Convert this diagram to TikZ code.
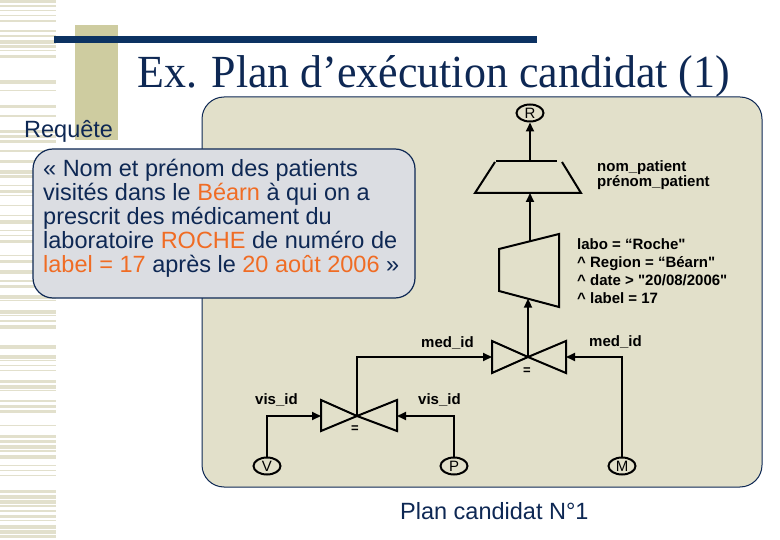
\documentclass[tikz,border=0pt]{standalone}
\usepackage{fontspec}
\setmainfont{Liberation Sans}
\newfontfamily\serifT{Liberation Serif}
\newfontfamily\plainsans{Liberation Sans}[Ligatures=TeXOff]
\usetikzlibrary{arrows.meta,shapes.geometric}
\definecolor{navy}{RGB}{14,40,84}
\definecolor{barnavy}{RGB}{12,50,98}
\definecolor{orng}{RGB}{240,108,36}
\definecolor{beige}{RGB}{226,224,202}
\definecolor{olive}{RGB}{206,204,160}
\definecolor{stripe}{RGB}{226,224,204}
\definecolor{greybox}{RGB}{219,221,226}
\tikzset{
  ln/.style={line width=2pt, line join=miter},
  arr/.style={ln, -{Triangle[length=9pt,width=8pt]}},
  rel/.style={ellipse, draw, line width=2pt, inner sep=0pt, minimum width=27pt, minimum height=17pt, font=\fontsize{15}{15}\selectfont},
  lbl/.style={anchor=base west, inner sep=0pt, font=\fontsize{15}{15}\selectfont\plainsans\bfseries},
  eqs/.style={inner sep=0pt, font=\fontsize{13}{13}\selectfont\bfseries},
  qline/.style={anchor=base west, inner sep=0pt, text=navy, font=\fontsize{23.5}{24}\selectfont},
}
\begin{document}
\begin{tikzpicture}[x=1pt,y=-1pt]
\useasboundingbox (0,0) rectangle (780,540);
\fill[white] (0,0) rectangle (780,540);
% left stripes
\pgfmathsetseed{11}
\foreach \i in {0,...,107} {
  \pgfmathtruncatemacro\hh{1+int(4*rnd)}
  \pgfmathtruncatemacro\on{rnd>0.3?1:0}
  \ifnum\on=1 \fill[stripe] (0,\i*5) rectangle (56,\i*5+\hh); \fi
}
% olive bar and navy rule
\fill[olive] (75,25) rectangle (118,140);
\fill[barnavy] (54,36) rectangle (537,43);
% title
\node[anchor=base west, inner sep=0pt, text=navy] (title) at (137,88)
  {\scalebox{0.955}[1]{\fontsize{46}{46}\selectfont\serifT Ex. Plan d’exécution candidat (1)}};
% main beige box
\draw[fill=beige, draw=navy, line width=1pt, rounded corners=22pt] (202,97) rectangle (762,487);
% Requete
\node[qline] (req) at (24,138) {Requête};
% grey query box
\draw[fill=greybox, draw=navy, line width=1.2pt, rounded corners=20pt] (33,149) rectangle (415,298);
\node[qline] (q1) at (43,177) {« Nom et prénom des patients};
\node[qline] (q2) at (43,201) {visités dans le \textcolor{orng}{Béarn} à qui on a};
\node[qline] (q3) at (43,225) {prescrit des médicament du};
\node[qline] (q4) at (43,249) {laboratoire \textcolor{orng}{ROCHE} de numéro de};
\node[qline] (q5) at (43,273) {\textcolor{orng}{label = 17} après le \textcolor{orng}{20 août 2006} »};
% relations
\node[rel] (R) at (530,113) {R};
\node[rel] (V) at (267,466) {V};
\node[rel] (P) at (454,466) {P};
\node[rel] (M) at (622,466) {M};
% projection
\coordinate (projT) at (530,161);
\coordinate (projB) at (530,193);
\draw[ln] (496,161) -- (557,161);
\draw[ln] (495,162) -- (475,193) -- (581,193) -- (562,162);
% selection
\coordinate (selT) at (530,241.5);
\coordinate (selB) at (528,298.7);
\draw[ln] (499,249) -- (559,234) -- (559,307) -- (499,291) -- cycle;
% join 1
\coordinate (j1c) at (528,357);
\coordinate (j1L) at (492,357);
\coordinate (j1R) at (566,357);
\draw[ln] (492,341) -- (492,373) -- (j1c) -- cycle;
\draw[ln] (566,341) -- (566,373) -- (j1c) -- cycle;
\node[eqs] (eq1) at (527,371) {=};
% join 2
\coordinate (j2c) at (357,416);
\coordinate (j2L) at (321,416);
\coordinate (j2R) at (397,416);
\draw[ln] (321,400) -- (321,431) -- (j2c) -- cycle;
\draw[ln] (397,400) -- (397,431) -- (j2c) -- cycle;
\node[eqs] (eq2) at (355,429) {=};
% connectors
\draw[arr] (projT) -- (R.south);
\draw[arr] (selT) -- (projB);
\draw[arr] (j1c) -- (selB);
\draw[arr] (j2c) |- (j1L);
\draw[arr] (M.north) |- (j1R);
\draw[arr] (V.north) |- (j2L);
\draw[arr] (P.north) |- (j2R);
% labels
\node[lbl] (np1) at (597,172) {nom\_patient};
\node[lbl] (np2) at (597,187) {prénom\_patient};
\node[lbl] (s1) at (577,250) {labo = “Roche"};
\node[lbl] (s2) at (577,268) {\textasciicircum{} Region = “Béarn"};
\node[lbl] (s3) at (577,286) {\textasciicircum{} date > "20/08/2006"};
\node[lbl] (s4) at (577,304) {\textasciicircum{} label = 17};
\node[lbl] (m1) at (421,348) {med\_id};
\node[lbl] (m2) at (589,347) {med\_id};
\node[lbl] (v1) at (255,405) {vis\_id};
\node[lbl] (v2) at (418,405) {vis\_id};
% caption
\node[qline] (cap) at (400,519) {Plan candidat N°1};
\end{tikzpicture}
\end{document}
